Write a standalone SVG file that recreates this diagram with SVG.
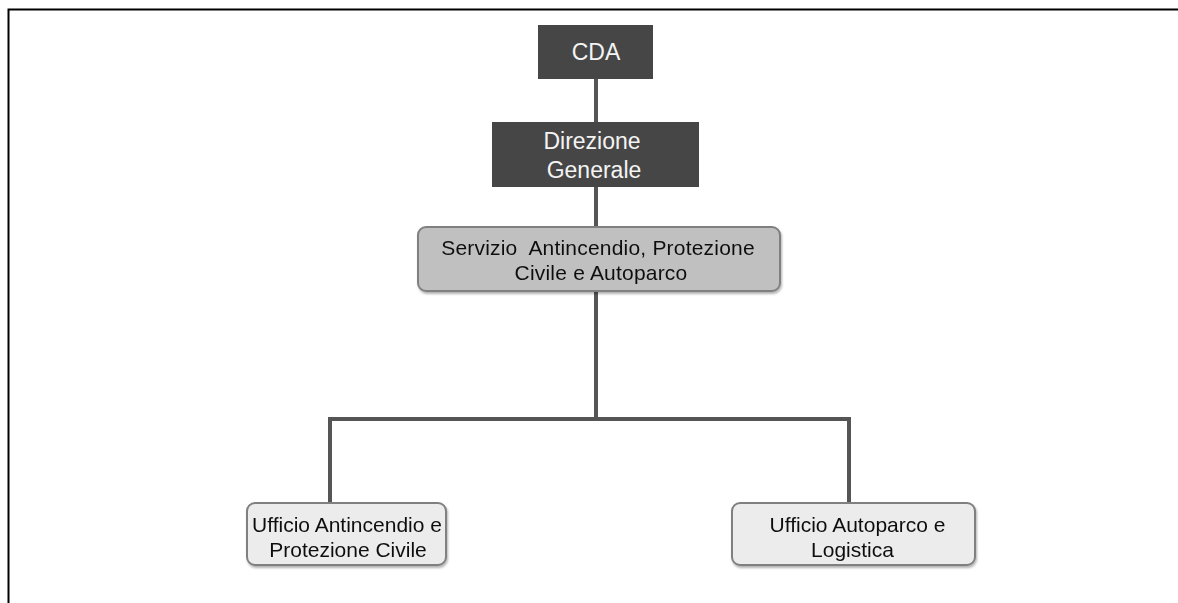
<svg xmlns="http://www.w3.org/2000/svg" width="1178" height="603" viewBox="0 0 1178 603">
  <style>
    text { font-family: "Liberation Sans", Arial, sans-serif; font-size: 21px; text-anchor: middle; white-space: pre; }
    .dark rect { fill: #464646; }
    .dark text { fill: #f4f4f4; font-size: 23px; }
    .mid rect { fill: #c0c0c0; stroke: #808080; stroke-width: 2; }
    .light rect { fill: #ececec; stroke: #808080; stroke-width: 2; }
    .mid text, .light text { fill: #111111; }
    .link { fill: none; stroke: #555555; stroke-width: 4; }
  </style>
  <defs>
    <filter id="shade" x="-5%" y="-10%" width="110%" height="130%">
      <feDropShadow dx="1" dy="2" stdDeviation="1" flood-color="#000000" flood-opacity="0.3"/>
    </filter>
  </defs>

  <!-- page frame -->
  <path d="M8.5 603 V9.5 H1178" fill="none" stroke="#000000" stroke-width="2"/>

  <!-- connectors -->
  <g id="connectors">
    <line class="link" x1="596" y1="79" x2="596" y2="122"/>
    <line class="link" x1="596" y1="187" x2="596" y2="227"/>
    <line class="link" x1="596" y1="292" x2="596" y2="419"/>
    <polyline class="link" points="330,502 330,419 849,419 849,502"/>
  </g>

  <g id="cda" class="dark">
    <rect x="538" y="25" width="115" height="54"/>
    <text x="596" y="60">CDA</text>
  </g>

  <g id="direzione" class="dark">
    <rect x="492" y="122" width="207" height="65"/>
    <text x="592" y="149">Direzione</text>
    <text x="594" y="178">Generale</text>
  </g>

  <g id="servizio" class="mid" filter="url(#shade)">
    <rect x="418" y="227" width="362" height="64" rx="8"/>
    <text x="598" y="255" letter-spacing="0.2">Servizio  Antincendio, Protezione</text>
    <text x="601" y="280" letter-spacing="0.2">Civile e Autoparco</text>
  </g>

  <g id="ufficio-antincendio" class="light" filter="url(#shade)">
    <rect x="247" y="503" width="199" height="62" rx="8"/>
    <text x="347" y="531.5">Ufficio Antincendio e</text>
    <text x="348" y="557">Protezione Civile</text>
  </g>

  <g id="ufficio-autoparco" class="light" filter="url(#shade)">
    <rect x="732" y="503" width="243" height="62" rx="8"/>
    <text x="857.5" y="531.5">Ufficio Autoparco e</text>
    <text x="852.5" y="557">Logistica</text>
  </g>
</svg>
